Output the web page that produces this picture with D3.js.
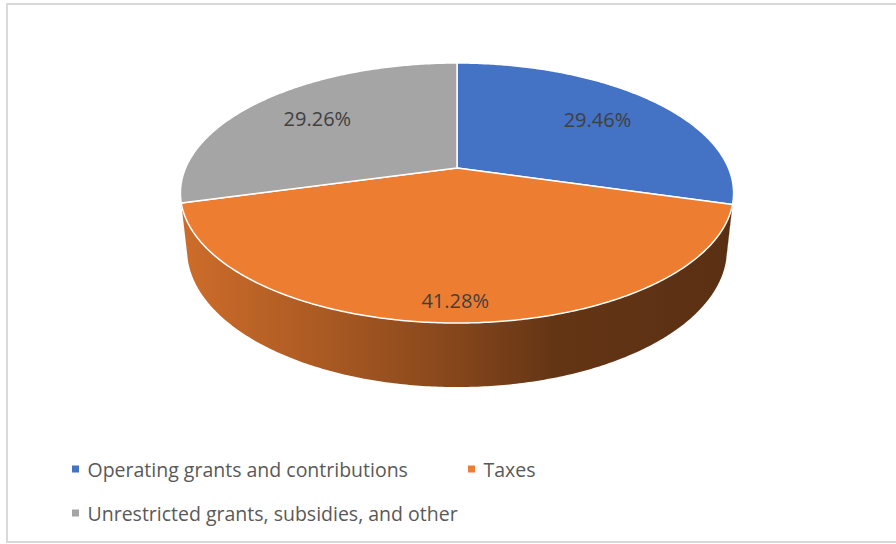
<!DOCTYPE html>
<html>
<head>
<meta charset="utf-8">
<script src="https://cdn.jsdelivr.net/npm/d3@7"></script>
<style>
html,body{margin:0;padding:0;background:#fff;}
svg{display:block;}
</style>
</head>
<body>
<svg id="chart" width="896" height="544"></svg>
<script>
const categories = ["Operating grants and contributions", "Taxes", "Unrestricted grants, subsidies, and other"];
const values = [29.46, 41.28, 29.26];
const labels = ["29.46%", "41.28%", "29.26%"];
const colors = ["#4472C4", "#ED7D31", "#A5A5A5"];

const svg = d3.select("#chart");
const W = 896, H = 544;

// chart border
svg.append("rect").attr("x", 7).attr("y", 4).attr("width", 900).attr("height", 538)
  .attr("fill", "#fff").attr("stroke", "#d9d9d9").attr("stroke-width", 2);

// 3D perspective projection parameters
const cx = 457, cy = 168, C = 271.4;
const phi = Math.asin(0.4613), sinP = Math.sin(phi), cosP = Math.cos(phi);
const k = 0.2168, depth = 0.2363;

function proj(theta, r, h) {
  const u = r * Math.sin(theta), v = r * Math.cos(theta);
  const den = 1 + k * (v * cosP + h * sinP);
  return [cx + C * u / den, cy + C * (h * cosP - v * sinP) / den];
}

const pie = d3.pie().sort(null).startAngle(0).endAngle(2 * Math.PI);
const arcs = pie(values);
const line = d3.line();

function arcPoints(a0, a1, r, h) {
  const n = Math.max(2, Math.ceil((a1 - a0) / 0.01));
  return d3.range(n + 1).map(i => proj(a0 + (a1 - a0) * i / n, r, h));
}

// visible range of the side wall
const cosLim = -k / cosP;
const th1 = Math.acos(cosLim), th2 = 2 * Math.PI - th1;

const defs = svg.append("defs");
arcs.forEach((d, i) => {
  const base = d3.color(colors[i]);
  const g = defs.append("linearGradient").attr("id", "side" + i)
    .attr("gradientUnits", "userSpaceOnUse")
    .attr("x1", cx - C).attr("x2", cx + C).attr("y1", 0).attr("y2", 0);
  [[0, 0.86], [0.25, 0.72], [0.5, 0.56], [0.68, 0.42], [1, 0.38]].forEach(([o, f]) => {
    g.append("stop").attr("offset", o)
      .attr("stop-color", d3.rgb(base.r * f, base.g * f, base.b * f));
  });
});

// side walls
const sides = svg.append("g");
arcs.forEach((d, i) => {
  const a0 = Math.max(d.startAngle, th1), a1 = Math.min(d.endAngle, th2);
  if (a1 <= a0) return;
  const top = arcPoints(a0, a1, 1, 0);
  const bot = arcPoints(a0, a1, 1, depth).reverse();
  sides.append("path").attr("d", line(top.concat(bot)) + "Z")
    .attr("fill", "url(#side" + i + ")");
});

// top faces
const tops = svg.append("g");
arcs.forEach((d, i) => {
  const pts = [proj(0, 0, 0)].concat(arcPoints(d.startAngle, d.endAngle, 1, 0));
  tops.append("path").attr("d", line(pts) + "Z")
    .attr("fill", colors[i]).attr("stroke", "#fff").attr("stroke-width", 1.5)
    .attr("stroke-linejoin", "round");
});

// data labels
arcs.forEach((d, i) => {
  const mid = (d.startAngle + d.endAngle) / 2;
  const r = 0.7 + 0.18 * Math.max(0, -Math.cos(mid));
  const p = proj(mid, r, 0);
  svg.append("text").attr("x", p[0]).attr("y", p[1])
    .attr("text-anchor", "middle").attr("dominant-baseline", "central")
    .attr("font-family", "Open Sans, Noto Sans, sans-serif").attr("font-size", 20)
    .attr("fill", "#404040").text(labels[i]);
});

// legend
const legendPos = [[72, 469], [468, 469], [72, 513]];
const legend = svg.append("g");
categories.forEach((c, i) => {
  const [lx, ly] = legendPos[i];
  legend.append("rect").attr("x", lx).attr("y", ly - 3.5).attr("width", 7).attr("height", 7)
    .attr("fill", colors[i]);
  legend.append("text").attr("x", lx + 15.5).attr("y", ly)
    .attr("dominant-baseline", "central")
    .attr("font-family", "Open Sans, Noto Sans, sans-serif").attr("font-size", 19.5)
    .attr("fill", "#595959").text(c);
});
</script>
</body>
</html>
